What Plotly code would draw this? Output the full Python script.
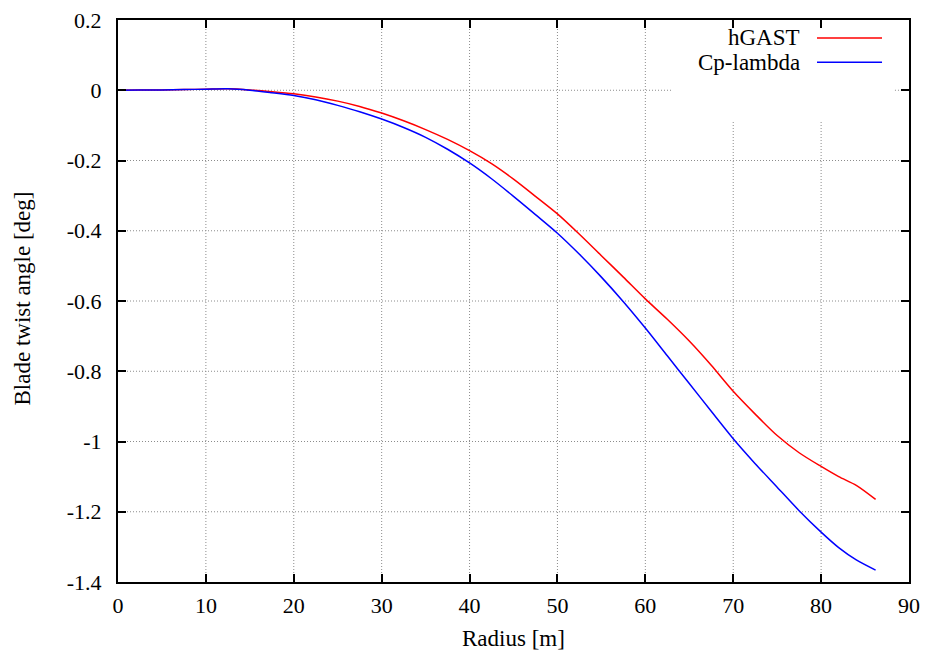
import plotly.graph_objects as go

radius = [0, 2.5, 5, 7.5, 10, 12.5, 15, 17.5, 20, 22.5, 25, 27.5, 30, 32.5, 35, 37.5, 40,
          42.5, 45, 47.5, 50, 52.5, 55, 57.5, 60, 62.5, 65, 67.5, 70, 72.5, 75, 77.5, 80,
          82, 84, 86.2]
hgast = [0, 0.0005, 0.001, 0.002, 0.003, 0.004, 0.001, -0.004, -0.010, -0.019, -0.031,
         -0.046, -0.065, -0.087, -0.112, -0.140, -0.172, -0.209, -0.253, -0.302, -0.352,
         -0.410, -0.471, -0.532, -0.594, -0.652, -0.714, -0.783, -0.857, -0.922, -0.983,
         -1.032, -1.071, -1.100, -1.125, -1.165]
cp_lambda = [0, 0.0005, 0.001, 0.002, 0.003, 0.004, 0.0, -0.007, -0.015, -0.027, -0.043,
             -0.061, -0.082, -0.106, -0.134, -0.168, -0.207, -0.252, -0.302, -0.354, -0.407,
             -0.467, -0.532, -0.602, -0.677, -0.756, -0.835, -0.914, -0.992, -1.063, -1.130,
             -1.197, -1.258, -1.302, -1.337, -1.366]

x_ticks = [0, 10, 20, 30, 40, 50, 60, 70, 80, 90]
y_ticks = [0.2, 0, -0.2, -0.4, -0.6, -0.8, -1.0, -1.2, -1.4]
y_ticktext = ["0.2", "0", "-0.2", "-0.4", "-0.6", "-0.8", "-1", "-1.2", "-1.4"]

series_names = ["hGAST", "Cp-lambda"]
series_colors = ["#ff0000", "#0000ff"]

font_family = "Liberation Serif, Times New Roman, serif"
fsize = 23
tick_size = 22

X_RANGE = [0, 90]
Y_RANGE = [-1.4, 0.2]
# opaque legend box region (data coords) that hides the grid
box_x = [63.1, 88.4]
box_y = [-0.09, 0.2]

fig = go.Figure()
for yv, name, color in zip([hgast, cp_lambda], series_names, series_colors):
    fig.add_trace(go.Scatter(x=radius, y=yv, mode="lines", name=name,
                             line=dict(color=color, width=1.5, shape="spline", smoothing=0.8),
                             showlegend=False))

axis_common = dict(
    showline=True, linecolor="black", linewidth=2, automargin=False,
    ticks="inside", ticklen=8, tickwidth=2, tickcolor="black", mirror="allticks",
    showgrid=False, zeroline=False, ticklabeloverflow="allow",
    tickfont=dict(family=font_family, size=tick_size, color="black"),
)

fig.update_xaxes(range=X_RANGE, tickvals=x_ticks, ticktext=[str(v) for v in x_ticks],
                 ticklabelstandoff=3, **axis_common)
fig.update_yaxes(range=Y_RANGE, tickvals=y_ticks, ticktext=y_ticktext,
                 ticklabelstandoff=10, **axis_common)

grid_line = dict(color="#8c8c8c", width=1, dash="1px,2px")


def segments(lo, hi, cut_lo, cut_hi, cut_active):
    if not cut_active:
        return [(lo, hi)]
    segs = []
    if cut_lo > lo:
        segs.append((lo, cut_lo))
    if cut_hi < hi:
        segs.append((cut_hi, hi))
    return segs


# vertical grid lines
for xv in x_ticks[1:-1]:
    inside = box_x[0] <= xv <= box_x[1]
    for a, b in segments(Y_RANGE[0], Y_RANGE[1], box_y[0], box_y[1], inside):
        fig.add_shape(type="line", xref="x", yref="y", x0=xv, x1=xv, y0=a, y1=b,
                      line=grid_line, layer="below")
# horizontal grid lines
for yv in y_ticks[1:-1]:
    inside = box_y[0] <= yv <= box_y[1]
    for a, b in segments(X_RANGE[0], X_RANGE[1], box_x[0], box_x[1], inside):
        fig.add_shape(type="line", xref="x", yref="y", x0=a, x1=b, y0=yv, y1=yv,
                      line=grid_line, layer="below")

# axis titles
fig.add_annotation(xref="paper", yref="paper", x=0.5, y=-0.1, yanchor="middle",
                   text="Radius [m]", showarrow=False,
                   font=dict(family=font_family, size=fsize, color="black"))
fig.add_annotation(xref="paper", yref="paper", x=-0.121, y=0.505, xanchor="center",
                   yanchor="middle", text="Blade twist angle [deg]", showarrow=False,
                   textangle=-90, font=dict(family=font_family, size=fsize, color="black"))

# manual legend: text right-aligned, sample line on the right
legend_y = [0.968, 0.925]
for name, color, ly in zip(series_names, series_colors, legend_y):
    fig.add_annotation(xref="paper", yref="paper", x=0.8647, y=ly, text=name, showarrow=False,
                       xanchor="right", yanchor="middle",
                       font=dict(family=font_family, size=fsize, color="black"))
    fig.add_shape(type="line", xref="paper", yref="paper", x0=0.8837, x1=0.9659, y0=ly, y1=ly,
                  line=dict(color=color, width=1.5))

# page has an 8px body margin, so the figure is sized to fit the window
fig.update_layout(
    width=922, height=652,
    margin=dict(l=110, r=21, t=12, b=78),
    plot_bgcolor="white", paper_bgcolor="white",
    font=dict(family=font_family, color="black"),
)

fig.write_html("out.html")
